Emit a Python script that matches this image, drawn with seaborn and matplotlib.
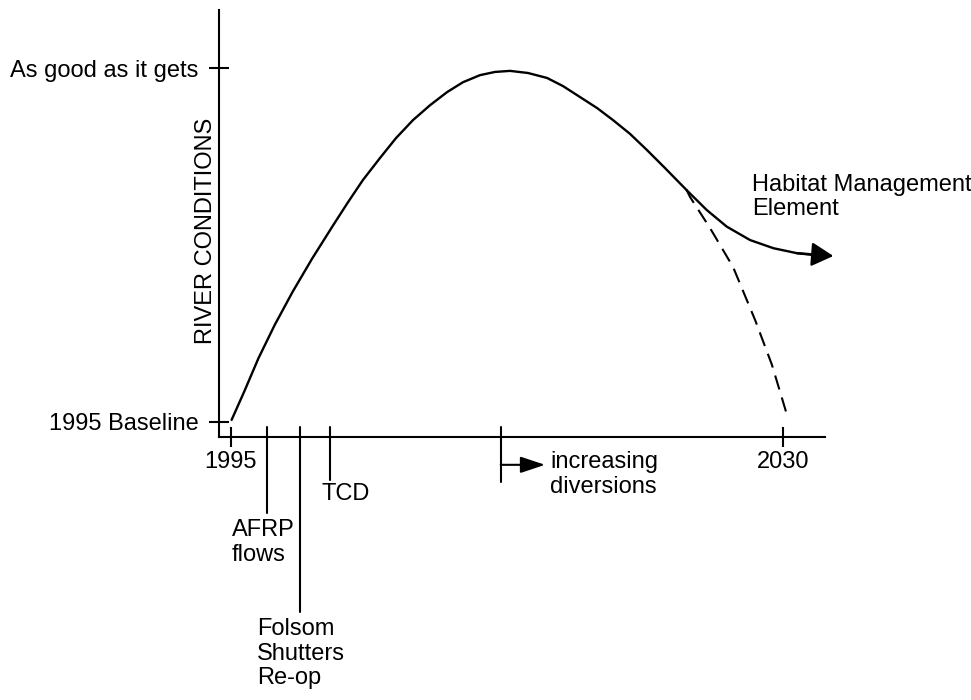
import matplotlib
matplotlib.use("Agg")
import matplotlib.pyplot as plt
import numpy as np
import pandas as pd
import seaborn as sns

# main curve (year, condition: 0 = 1995 baseline, 1 = as good as it gets)
main_year = [1995.04, 1995.84, 1996.74, 1997.77, 1998.91, 2000.15, 2001.48, 2002.42,
             2003.37, 2004.45, 2005.46, 2006.54, 2007.62, 2008.70, 2009.71, 2010.79,
             2011.74, 2012.69, 2013.83, 2015.04, 2016.05, 2017.13, 2018.21, 2019.22,
             2020.30, 2021.38, 2022.46, 2023.89]
main_cond = [0.006, 0.086, 0.180, 0.274, 0.368, 0.462, 0.556, 0.621,
             0.684, 0.746, 0.802, 0.853, 0.895, 0.932, 0.960, 0.980,
             0.989, 0.992, 0.986, 0.972, 0.949, 0.918, 0.887, 0.853,
             0.814, 0.768, 0.720, 0.655]

# with Habitat Management Element (last point is the arrow tip)
hme_year = [2023.89, 2025.16, 2026.43, 2027.91, 2029.39, 2030.87, 2031.90, 2033.19]
hme_cond = [0.655, 0.599, 0.552, 0.514, 0.491, 0.477, 0.472, 0.469]

# without it (dashed)
no_hme_year = [2023.89, 2024.10, 2025.37, 2026.83, 2028.23, 2029.30, 2030.25]
no_hme_cond = [0.655, 0.636, 0.548, 0.438, 0.288, 0.161, 0.020]

# events along the time axis
event_year = [1997.3, 1999.4, 2001.3]
event_depth = [-0.257, -0.537, -0.164]
event_label = ["AFRP\nflows", "Folsom\nShutters\nRe-op", "TCD"]
diversion_year = 2012.1

xtick_vals = [1995, 2030]
xtick_labels = ["1995", "2030"]
ytick_vals = [0, 1]
ytick_labels = ["1995 Baseline", "As good as it gets"]

sns.set_style("ticks")
plt.rcParams['font.family'] = ['Liberation Sans', 'DejaVu Sans']
plt.rcParams['font.size'] = 17
plt.rcParams['text.color'] = 'black'
plt.rcParams['axes.labelcolor'] = 'black'

fig = plt.figure(figsize=(9.71, 7.0), dpi=100)
ax = fig.add_axes([219 / 971, 1 - 437 / 700, 606 / 971, 427 / 700])

df_main = pd.DataFrame({"year": main_year, "cond": main_cond})
sns.lineplot(data=df_main, x="year", y="cond", sort=False, color="black", lw=1.7, ax=ax)

sns.lineplot(x=hme_year[:-1], y=hme_cond[:-1], sort=False, color="black", lw=1.7, ax=ax)
ax.annotate("", xy=(hme_year[-1], hme_cond[-1]), xytext=(hme_year[-3], hme_cond[-3]),
            arrowprops=dict(arrowstyle="-|>,head_length=0.42,head_width=0.23", color="black",
                            lw=1.7, mutation_scale=32, shrinkA=0, shrinkB=0),
            annotation_clip=False)

sns.lineplot(x=no_hme_year, y=no_hme_cond, sort=False, color="black", lw=1.5, ax=ax)
ax.lines[-1].set_dashes((7, 4))

for line in ax.lines:
    line.set_clip_on(False)

ax.set_xlim(1994.24, 2032.66)
ax.set_ylim(-0.0424, 1.164)
ax.set_xticks(xtick_vals, xtick_labels)
ax.set_yticks(ytick_vals, ytick_labels)
ax.set_xlabel("")
ax.set_ylabel("")
sns.despine(ax=ax)
for s in ["left", "bottom"]:
    ax.spines[s].set_linewidth(1.5)
    ax.spines[s].set_color("black")
ax.tick_params(axis="both", direction="inout", length=15, width=1.5, color="black",
               labelsize=17, labelcolor="black", bottom=True, left=True)
ax.tick_params(axis="y", pad=7)
ax.tick_params(axis="x", pad=2.5)

# event markers below the axis
top = -0.014
for yr, depth in zip(event_year, event_depth):
    ax.plot([yr, yr], [top, depth], color="black", lw=1.5, clip_on=False)

ax.text(1995.06, -0.274, event_label[0], ha="left", va="top", linespacing=1.15)
ax.text(1996.65, -0.554, event_label[1], ha="left", va="top", linespacing=1.15)
ax.text(2000.77, -0.172, event_label[2], ha="left", va="top", linespacing=1.15)

ax.plot([diversion_year, diversion_year], [top, -0.169], color="black", lw=1.5, clip_on=False)
ax.annotate("", xy=(2014.91, -0.121), xytext=(diversion_year, -0.121),
            arrowprops=dict(arrowstyle="-|>,head_length=0.6,head_width=0.2", color="black",
                            lw=1.5, mutation_scale=25, shrinkA=0, shrinkB=0),
            annotation_clip=False)
ax.text(2015.23, -0.082, "increasing\ndiversions", ha="left", va="top", linespacing=1.15)

ax.text(2028.03, 0.701, "Habitat Management\nElement", ha="left", va="top", linespacing=1.15)

fig.text(205.5 / 971, 1 - 231 / 700, "RIVER CONDITIONS", rotation=90,
         ha="center", va="center", fontsize=17)

fig.savefig("out.png", dpi=100)
